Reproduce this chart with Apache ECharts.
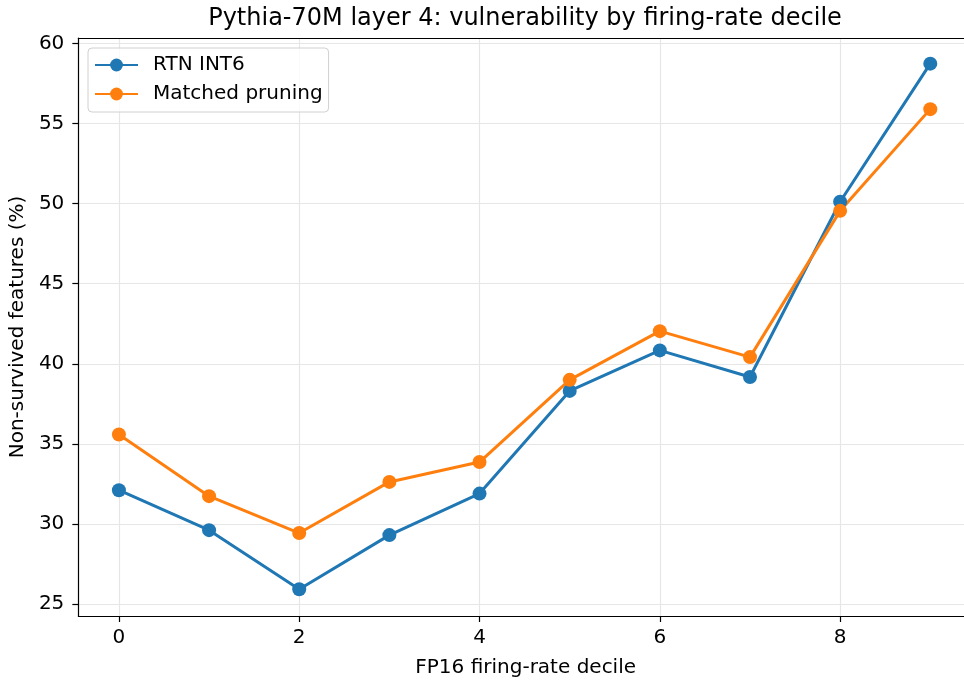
<!DOCTYPE html>
<html>
<head>
<meta charset="utf-8">
<script src="https://cdn.jsdelivr.net/npm/echarts@6/dist/echarts.min.js"></script>
<style>
html,body{margin:0;padding:0;background:#fff;}
#c{width:964px;height:683px;}
</style>
</head>
<body>
<div id="c"></div>
<script>
const deciles = [0,1,2,3,4,5,6,7,8,9];
const rtnInt6 = [32.11,29.62,25.93,29.31,31.90,38.31,40.84,39.18,50.12,58.74];
const matchedPruning = [35.59,31.74,29.44,32.63,33.87,39.00,42.04,40.42,49.55,55.90];
const xTicks = [0,2,4,6,8];
const yTicks = [25,30,35,40,45,50,55,60];

const font = 'DejaVu Sans';
const chart = echarts.init(document.getElementById('c'), null, {renderer:'canvas'});
chart.setOption({
  animation:false,
  backgroundColor:'#fff',
  title:{
    text:'Pythia-70M layer 4: vulnerability by firing-rate decile',
    left:520, top:2, textAlign:'center',
    textStyle:{fontFamily:font,fontSize:24,fontWeight:'normal',color:'#000'}
  },
  grid:{left:77,top:38,right:0,bottom:66,show:false,containLabel:false},
  legend:{
    orient:'vertical', left:88, top:48,
    itemWidth:43, itemHeight:16, itemGap:9,
    padding:[7,6,8,6],
    borderColor:'#d0d0d0', borderWidth:1, borderRadius:4,
    backgroundColor:'rgba(255,255,255,0.8)',
    textStyle:{fontFamily:font,fontSize:20,color:'#000',padding:[0,0,0,10]},
    data:['RTN INT6','Matched pruning']
  },
  xAxis:[{
    type:'value', min:-0.45, max:9.374,
    name:'FP16 firing-rate decile', nameLocation:'middle', nameGap:42,
    nameTextStyle:{fontFamily:font,fontSize:20,color:'#000',padding:[0,0,0,9]},
    axisLine:{show:true,onZero:false,lineStyle:{color:'#000',width:1.2}},
    axisTick:{show:true,length:6,customValues:xTicks,lineStyle:{color:'#000',width:1.2}},
    axisLabel:{customValues:xTicks,fontFamily:font,fontSize:20,color:'#000',margin:12},
    splitLine:{show:true,lineStyle:{color:'#e6e6e6',width:1.2}}
  },{
    type:'value', position:'top', min:-0.45, max:9.374,
    axisLine:{show:true,onZero:false,lineStyle:{color:'#000',width:1.2}},
    axisTick:{show:false}, axisLabel:{show:false}, splitLine:{show:false}
  }],
  yAxis:{
    type:'value', min:24.26, max:60.34,
    name:'Non-survived features (%)', nameLocation:'middle', nameGap:44,
    nameTextStyle:{fontFamily:font,fontSize:20,color:'#000'},
    axisLine:{show:true,onZero:false,lineStyle:{color:'#000',width:1.2}},
    axisTick:{show:true,length:6,customValues:yTicks,lineStyle:{color:'#000',width:1.2}},
    axisLabel:{customValues:yTicks,fontFamily:font,fontSize:20,color:'#000',margin:14},
    splitLine:{show:true,lineStyle:{color:'#e6e6e6',width:1.2}}
  },
  series:[
    {name:'RTN INT6',type:'line',data:deciles.map((d,i)=>[d,rtnInt6[i]]),
     color:'#1f77b4',symbol:'circle',symbolSize:14,lineStyle:{width:3},itemStyle:{color:'#1f77b4'}},
    {name:'Matched pruning',type:'line',data:deciles.map((d,i)=>[d,matchedPruning[i]]),
     color:'#ff7f0e',symbol:'circle',symbolSize:14,lineStyle:{width:3},itemStyle:{color:'#ff7f0e'}}
  ]
});
</script>
</body>
</html>
